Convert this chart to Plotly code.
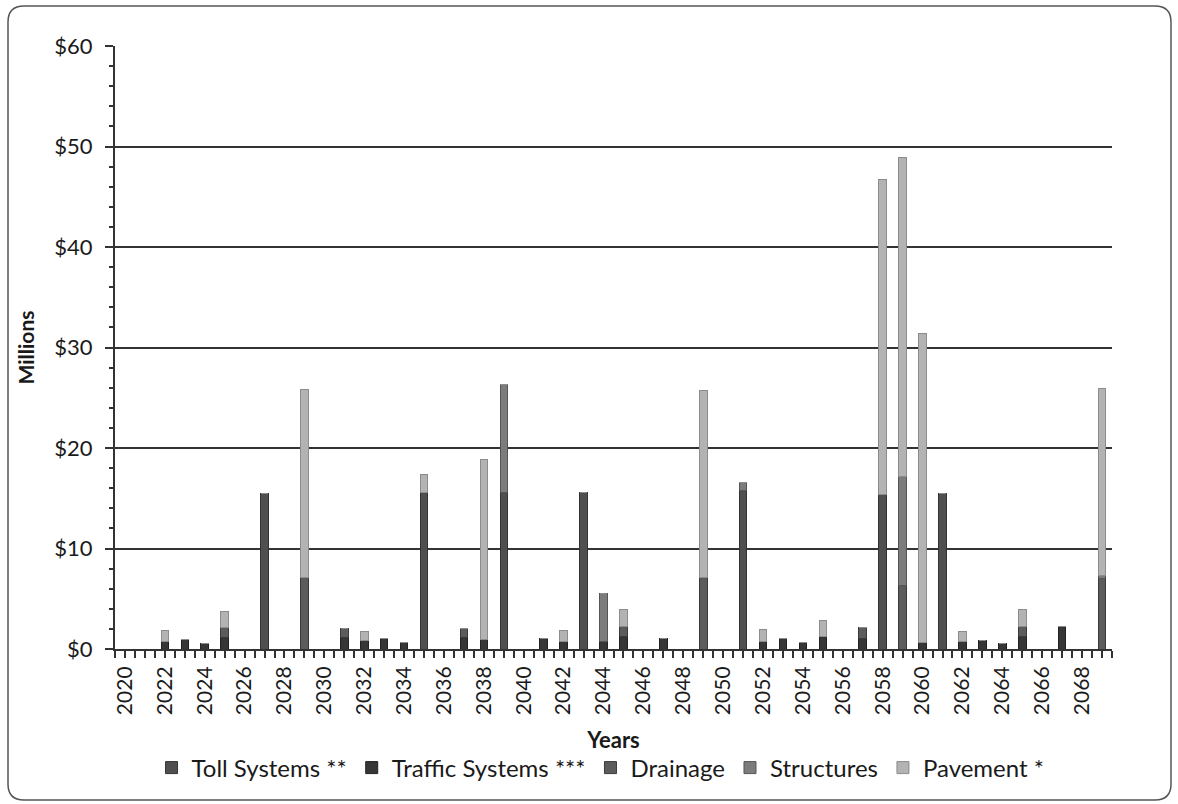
import plotly.graph_objects as go

# Fiscal years shown on the horizontal axis
years = list(range(2020, 2070))


def by_year(values):
    """Expand a {year: $M} mapping into a full list aligned with `years`."""
    return [values.get(y, 0) for y in years]


# Annual costs by asset category ($ millions)
toll_systems = by_year({2027: 15.5, 2035: 15.6, 2039: 15.6, 2043: 15.6,
                        2051: 15.8, 2058: 15.4, 2061: 15.5})
traffic_systems = by_year({2022: 0.7, 2023: 0.9, 2024: 0.5, 2025: 1.1, 2031: 1.1,
                           2032: 0.8, 2033: 1.0, 2034: 0.6, 2037: 1.1, 2038: 0.9,
                           2041: 1.0, 2042: 0.7, 2044: 0.7, 2045: 1.2, 2047: 1.0,
                           2052: 0.7, 2053: 1.0, 2054: 0.6, 2055: 1.2, 2057: 1.0,
                           2060: 0.6, 2062: 0.7, 2063: 0.8, 2064: 0.5, 2065: 1.2,
                           2067: 2.2})
drainage = by_year({2025: 1.0, 2029: 7.1, 2031: 0.9, 2037: 0.9, 2045: 1.0,
                    2049: 7.1, 2057: 1.1, 2059: 6.3, 2065: 1.0, 2069: 7.0})
structures = by_year({2039: 10.7, 2044: 4.8, 2051: 0.8, 2059: 10.9, 2069: 0.3})
pavement = by_year({2022: 1.1, 2025: 1.6, 2029: 18.7, 2032: 0.9, 2035: 1.8,
                    2038: 18.0, 2042: 1.1, 2045: 1.7, 2049: 18.6, 2052: 1.2,
                    2055: 1.6, 2058: 31.3, 2059: 31.7, 2060: 30.8, 2062: 1.0,
                    2065: 1.7, 2069: 18.6})

y_tick_vals = [0, 10, 20, 30, 40, 50, 60]
y_tick_text = ["$0", "$10", "$20", "$30", "$40", "$50", "$60"]
x_tick_vals = list(range(2020, 2070, 2))

series = [
    ("Toll Systems **", toll_systems, "#4f4f4f", "#333333"),
    ("Traffic Systems ***", traffic_systems, "#363636", "#222222"),
    ("Drainage", drainage, "#5c5c5c", "#3a3a3a"),
    ("Structures", structures, "#7c7c7c", "#555555"),
    ("Pavement *", pavement, "#b3b3b3", "#8c8c8c"),
]

FONT = "Lato, 'Open Sans', sans-serif"
INK = "#1a1a1a"
GRID = "#333333"

fig = go.Figure()
for name, vals, fill, edge in series:
    fig.add_trace(go.Bar(
        x=years, y=vals, name=name, width=0.38,
        marker=dict(color=fill, line=dict(color=edge, width=1)),
    ))

# Plot-area geometry in pixels (used for the rounded chart frame)
W, H = 1178, 804
ML, MR, MT, MB = 115, 66, 46, 155
pw, ph = W - ML - MR, H - MT - MB


def px_to_paper(px, py):
    return (px - ML) / pw, (H - MB - py) / ph


x0, y0 = px_to_paper(8, 6)
x1, y1 = px_to_paper(1171, 800)
r = 16
rx, ry = r / pw, r / ph
frame = (f"M {x0 + rx},{y0} L {x1 - rx},{y0} Q {x1},{y0} {x1},{y0 - ry} "
         f"L {x1},{y1 + ry} Q {x1},{y1} {x1 - rx},{y1} "
         f"L {x0 + rx},{y1} Q {x0},{y1} {x0},{y1 + ry} "
         f"L {x0},{y0 - ry} Q {x0},{y0} {x0 + rx},{y0} Z")

fig.update_layout(
    width=W, height=H,
    margin=dict(l=ML, r=MR, t=MT, b=MB),
    barmode="stack",
    paper_bgcolor="white", plot_bgcolor="white",
    font=dict(family=FONT, size=22, color=INK),
    showlegend=True,
    legend=dict(orientation="h", x=0.487, xanchor="center",
                y=(H - MB - 768) / ph, yanchor="middle",
                font=dict(family=FONT, size=24, color=INK),
                itemwidth=30, traceorder="normal"),
    xaxis=dict(
        range=[2019.5, 2069.5], tickmode="array", tickvals=x_tick_vals,
        ticktext=[str(v) for v in x_tick_vals], tickangle=-90,
        tickfont=dict(size=21, color=INK),
        showgrid=False, zeroline=False,
        showline=True, linecolor=GRID, linewidth=2,
        ticks="outside", ticklen=7, tickcolor=GRID, tickwidth=1.5,
        minor=dict(dtick=0.5, tick0=2019.5, ticks="outside", ticklen=7,
                   tickcolor=GRID, tickwidth=1.5),
        title=dict(text="<b>Years</b>", font=dict(size=22, color=INK), standoff=18),
    ),
    xaxis2=dict(
        overlaying="x", anchor="y", range=[2019.5, 2069.5],
        tickmode="linear", tick0=2020, dtick=1, showticklabels=False,
        ticks="inside", ticklen=6, tickcolor=GRID, tickwidth=1.5,
        showgrid=False, zeroline=False, showline=False, layer="below traces",
    ),
    yaxis=dict(
        range=[0, 60], tickmode="array", tickvals=y_tick_vals, ticktext=y_tick_text,
        tickfont=dict(size=22, color=INK), ticklabelstandoff=8,
        showgrid=True, gridcolor=GRID, gridwidth=1.5, zeroline=False,
        showline=True, linecolor=GRID, linewidth=2,
        ticks="outside", ticklen=8, tickcolor=GRID, tickwidth=1.5,
        minor=dict(dtick=2, ticks="outside", ticklen=4, tickcolor=GRID, tickwidth=1.5),
        title=dict(text="<b>Millions</b>", font=dict(size=21, color=INK), standoff=14),
    ),
    yaxis2=dict(
        overlaying="y", anchor="x", side="left", range=[0, 60],
        tickmode="linear", tick0=0, dtick=2, showticklabels=False,
        ticks="inside", ticklen=6, tickcolor=GRID, tickwidth=1.5,
        showgrid=False, zeroline=False, showline=False,
    ),
    shapes=[dict(type="path", path=frame, xref="paper", yref="paper",
                 line=dict(color="#555555", width=1.5), fillcolor="rgba(0,0,0,0)",
                 layer="below")],
)

fig.write_html("out.html")
